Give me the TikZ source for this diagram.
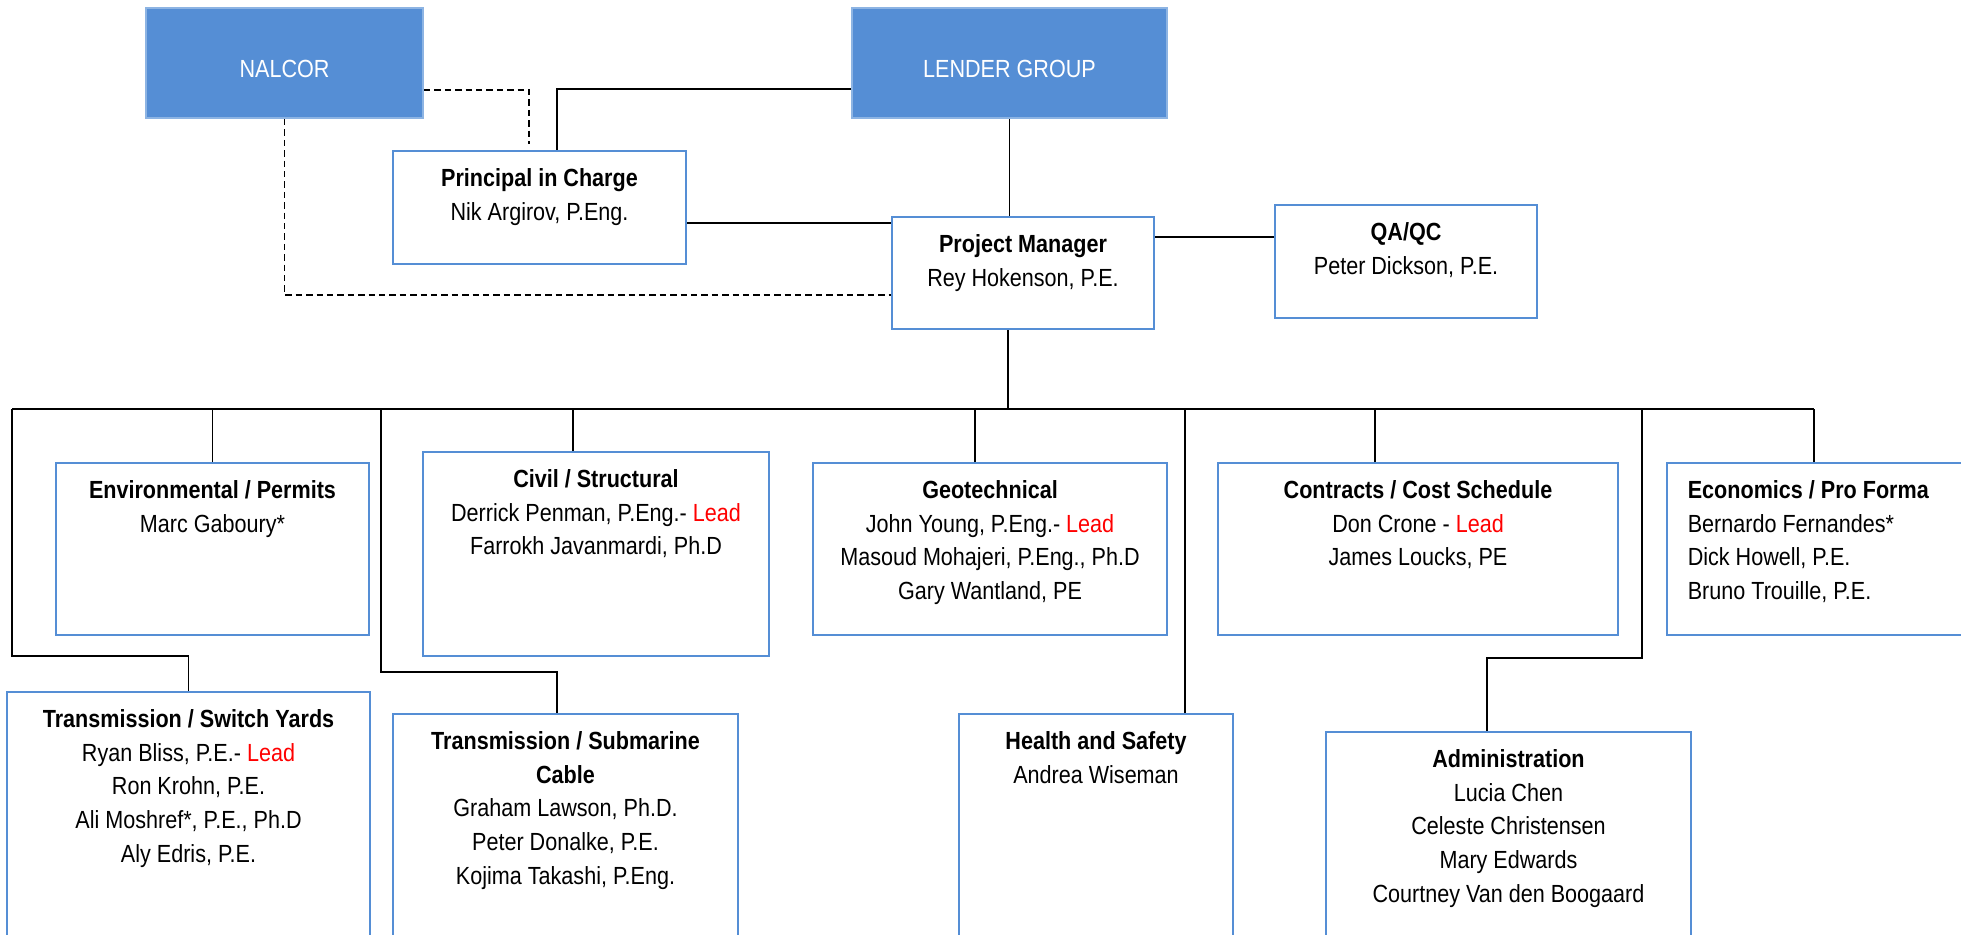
\documentclass[tikz,border=0pt]{standalone}
\usepackage{fontspec}
\setmainfont[FakeStretch=0.87]{Liberation Sans}
\usepackage{xcolor}
\usetikzlibrary{positioning}
\definecolor{boxblue}{RGB}{85,142,213}
\definecolor{boxedge}{RGB}{141,180,227}

\begin{document}
\begin{tikzpicture}[
  x=0.5pt, y=-0.5pt, line width=0.8pt,
  unit/.style={draw=boxblue, line width=1pt, anchor=north west, inner sep=0pt},
  owner/.style={unit, fill=boxblue, draw=boxedge},
  txt/.style={align=center, inner sep=0pt,
              font=\fontsize{12.4}{16.9}\selectfont, execute at begin node=\strut},
  lbl/.style={txt, anchor=base, text=white},
  dashline/.style={dash pattern=on 3.2pt off 2pt}
]
  \useasboundingbox (0,0) rectangle (1961,934);
  \clip (0,0) rectangle (1961,934);

  % --- owners
  \node[owner, minimum width=138.5pt, minimum height=55pt] (nalcor) at (145,7) {};
  \node[owner, minimum width=157.5pt, minimum height=55pt] (lender) at (851,7) {};
  \node[lbl] (nalcor-t) at ([yshift=-7pt]nalcor.center) {NALCOR};
  \node[lbl] (lender-t) at ([yshift=-7pt]lender.center) {LENDER GROUP};

  % --- management
  \node[unit, minimum width=146.5pt, minimum height=56.5pt] (pic) at (392,150) {};
  \node[unit, minimum width=131pt, minimum height=56pt] (pm) at (891,216) {};
  \node[unit, minimum width=131pt, minimum height=56.5pt] (qa) at (1274,204) {};
  \node[txt, below=8.8pt of pic.north] (pic-t) {\textbf{Principal in Charge}\\Nik Argirov, P.Eng.};
  \node[txt, below=8.8pt of pm.north] (pm-t) {\textbf{Project Manager}\\Rey Hokenson, P.E.};
  \node[txt, below=8.8pt of qa.north] (qa-t) {\textbf{QA/QC}\\Peter Dickson, P.E.};

  \draw[dashline] ([yshift=-13.5pt]nalcor.east) -| ([xshift=-5.25pt,yshift=3pt]pic.north);
  \draw ([yshift=-13pt]lender.west) -| ([xshift=8.75pt]pic.north);
  \draw[dashline] (nalcor.south) |- ([yshift=-11pt]pm.west);
  \draw ([yshift=-7.75pt]pic.east) -- ([yshift=-7.75pt]pic.east -| pm.west);
  \draw (lender.south) -- (lender.south |- pm.north);
  \draw ([yshift=18pt]pm.east) -- ([yshift=18pt]pm.east -| qa.west);

  % --- disciplines, first row
  \node[unit, minimum width=156.5pt, minimum height=86pt] (env) at (55,462) {};
  \node[unit, minimum width=173pt, minimum height=102pt] (civ) at (422,451) {};
  \node[unit, minimum width=177pt, minimum height=86pt] (geo) at (812,462) {};
  \node[unit, minimum width=200pt, minimum height=86pt] (con) at (1217,462) {};
  \node[unit, minimum width=170pt, minimum height=86pt] (eco) at (1666,462) {};

  \node[txt, below=8.8pt of env.north] (env-t) {\textbf{Environmental / Permits}\\Marc Gaboury*};
  \node[txt, below=8.8pt of civ.north] (civ-t) {\textbf{Civil / Structural}\\
    Derrick Penman, P.Eng.- \textcolor{red}{Lead}\\Farrokh Javanmardi, Ph.D};
  \node[txt, below=8.8pt of geo.north] (geo-t) {\textbf{Geotechnical}\\
    John Young, P.Eng.- \textcolor{red}{Lead}\\Masoud Mohajeri, P.Eng., Ph.D\\Gary Wantland, PE};
  \node[txt, below=8.8pt of con.north] (con-t) {\textbf{Contracts / Cost Schedule}\\
    Don Crone - \textcolor{red}{Lead}\\James Loucks, PE};
  \node[txt, align=left, below right=8.8pt and 10.5pt of eco.north west] (eco-t)
    {\textbf{Economics / Pro Forma}\\Bernardo Fernandes*\\Dick Howell, P.E.\\Bruno Trouille, P.E.};

  % --- disciplines, second row
  \node[unit, minimum width=181.5pt, minimum height=130pt] (tsy) at (6,691) {};
  \node[unit, minimum width=172.5pt, minimum height=130pt] (tsub) at (392,713) {};
  \node[unit, minimum width=137pt, minimum height=130pt] (hs) at (958,713) {};
  \node[unit, minimum width=182.5pt, minimum height=130pt] (adm) at (1325,731) {};

  \node[txt, below=8.8pt of tsy.north] (tsy-t) {\textbf{Transmission / Switch Yards}\\
    Ryan Bliss, P.E.- \textcolor{red}{Lead}\\Ron Krohn, P.E.\\Ali Moshref*, P.E., Ph.D\\Aly Edris, P.E.};
  \node[txt, below=8.8pt of tsub.north] (tsub-t) {\textbf{Transmission / Submarine}\\\textbf{Cable}\\
    Graham Lawson, Ph.D.\\Peter Donalke, P.E.\\Kojima Takashi, P.Eng.};
  \node[txt, below=8.8pt of hs.north] (hs-t) {\textbf{Health and Safety}\\Andrea Wiseman};
  \node[txt, below=8.8pt of adm.north] (adm-t) {\textbf{Administration}\\
    Lucia Chen\\Celeste Christensen\\Mary Edwards\\Courtney Van den Boogaard};

  % --- bus and drops
  \coordinate (busL) at (12,409);
  \coordinate (busR) at (1814,409);
  \coordinate (j1) at (381,409);
  \coordinate (j2) at (1642,409);
  \draw ([xshift=-7.5pt]pm.south) -- ([xshift=-7.5pt]pm.south |- busL);
  \draw (busL) -- (busR);
  \draw (env.north) -- (env.north |- busL);
  \draw ([xshift=-11.5pt]civ.north) -- ([xshift=-11.5pt]civ.north |- busL);
  \draw ([xshift=-7.5pt]geo.north) -- ([xshift=-7.5pt]geo.north |- busL);
  \draw ([xshift=-21.5pt]con.north) -- ([xshift=-21.5pt]con.north |- busL);
  \draw (busR) -- (busR |- eco.north);
  \draw (busL) |- ([yshift=17.5pt]tsy.north) -- (tsy.north);
  \draw (j1) |- ([xshift=-4.25pt,yshift=20.5pt]tsub.north) -- ([xshift=-4.25pt]tsub.north);
  \draw ([xshift=44.5pt]hs.north) -- ([xshift=44.5pt]hs.north |- busL);
  \draw (j2) |- ([xshift=-10.75pt,yshift=36.5pt]adm.north) -- ([xshift=-10.75pt]adm.north);
\end{tikzpicture}
\end{document}
